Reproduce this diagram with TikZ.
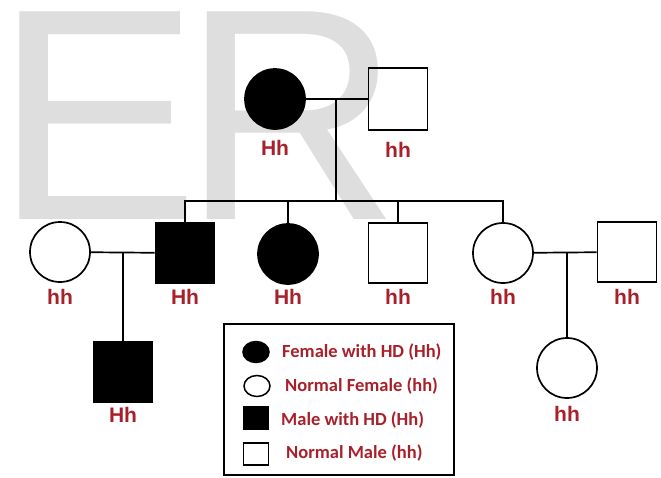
\documentclass[tikz,border=0pt]{standalone}
\usepackage{fontspec}
\setmainfont{Liberation Sans}
\newfontfamily\legendfont{Carlito}
\newfontfamily\wmfont{Liberation Sans}
\usetikzlibrary{shapes.geometric}
\definecolor{genored}{RGB}{168,32,42}
\definecolor{wmgray}{RGB}{222,222,222}
\tikzset{
	line/.style={line width=1.7pt},
	female/.style={circle, draw, line width=1.7pt, minimum size=60pt, inner sep=0pt},
	male/.style={rectangle, draw, line width=1.7pt, minimum width=59pt, minimum height=60pt, inner sep=0pt},
	hd/.style={fill=black},
	geno/.style={text=genored, inner sep=0pt, font=\bfseries\fontsize{21}{21}\selectfont},
	keyf/.style={ellipse, draw, line width=1.5pt, minimum width=26pt, minimum height=21pt, inner sep=0pt},
	keym/.style={rectangle, draw, line width=1.5pt, minimum width=25pt, minimum height=22pt, inner sep=0pt},
	keytext/.style={anchor=west, text=genored, inner sep=0pt, font=\legendfont\bfseries\fontsize{18.5}{18.5}\selectfont},
	wm/.style={anchor=base west, inner sep=0pt, text=wmgray, font=\wmfont\fontsize{302}{302}\selectfont}
}

\begin{document}
\begin{tikzpicture}[x=1pt, y=-1pt]
		%%%%% START %%%%%
		\useasboundingbox (0, 0) rectangle (661, 477);
		
		\node[wm, xscale=1.02] (wmE) at (-6, 219) {E};
		\node[wm] (wmR) at (182, 219) {R};
		
		% first generation
		\node[female, hd] (gma) at (275, 99) {};
		\node[male, minimum height=62pt] (gpa) at (398, 99) {};
		\coordinate (top) at (336, 99);
		\coordinate (sib) at (336, 201);
		\draw[line] (gma) -- (gpa);
		\draw[line] (top) -- (sib);
		
		% second generation
		\node[female] (wifeL) at (60, 252) {};
		\node[male, hd] (son1) at (185, 253) {};
		\node[female, hd] (dau1) at (288, 254) {};
		\node[male] (son2) at (398, 253) {};
		\node[female] (dau2) at (503, 253) {};
		\node[male] (husbR) at (627, 252) {};
		
		\draw[line] (son1.north) |- (sib) -| (dau2.north);
		\draw[line] (dau1.north) -- (dau1.north |- sib);
		\draw[line] (son2.north) -- (son2.north |- sib);
		
		% third generation
		\node[male, hd] (gson) at (123, 372) {};
		\node[female] (gdau) at (567, 368) {};
		
		\draw[line] (wifeL) -- (son1);
		\draw[line] (gson.north) -- (gson.north |- wifeL.east);
		\draw[line] (dau2) -- (husbR);
		\draw[line] (gdau.north) -- (gdau.north |- dau2.east);
		
		% genotypes
		\node[geno] (gmaG) at (275, 148) {Hh};
		\node[geno] (gpaG) at (398, 150) {hh};
		\node[geno] (wifeLG) at (60, 297) {hh};
		\node[geno] (son1G) at (185, 297) {Hh};
		\node[geno] (dau1G) at (288, 297) {Hh};
		\node[geno] (son2G) at (398, 297) {hh};
		\node[geno] (dau2G) at (503, 297) {hh};
		\node[geno] (husbRG) at (627, 297) {hh};
		\node[geno] (gsonG) at (123, 415) {Hh};
		\node[geno] (gdauG) at (567, 414) {hh};
		
		% key
		\draw[line width=2pt] (224, 324) rectangle (454, 475);
		\node[keyf, hd] (k1) at (256, 352) {};
		\node[keyf] (k2) at (257, 386) {};
		\node[keym, hd] (k3) at (256, 418) {};
		\node[keym] (k4) at (256, 454) {};
		\node[keytext] (k1t) at (282, 352) {Female with HD (Hh)};
		\node[keytext] (k2t) at (285, 386) {Normal Female (hh)};
		\node[keytext] (k3t) at (281, 420) {Male with HD (Hh)};
		\node[keytext] (k4t) at (286, 453) {Normal Male (hh)};
		
		%%%%% END %%%%%
	\end{tikzpicture}
\end{document}
